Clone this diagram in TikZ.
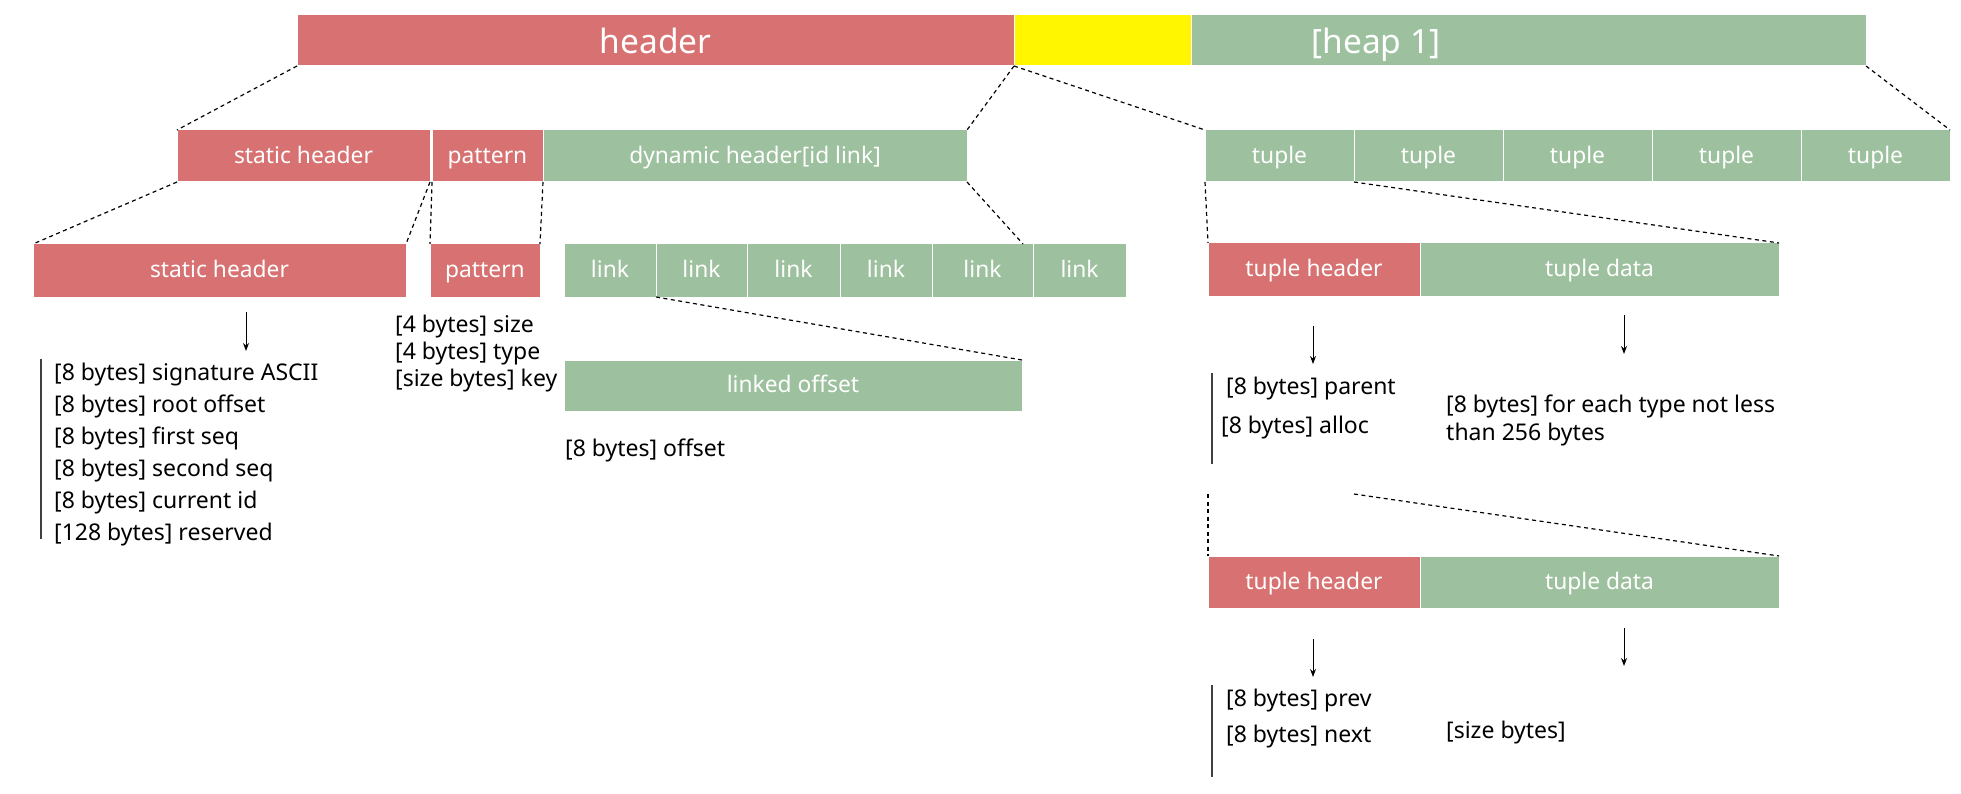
\documentclass[tikz,border=0pt]{standalone}
\usepackage{fontspec}
\setmainfont{Noto Sans}
\usetikzlibrary{calc,arrows.meta}
\definecolor{boxred}{RGB}{216,113,113}
\definecolor{boxgreen}{RGB}{157,192,158}
\definecolor{boxyellow}{RGB}{255,246,0}
\tikzset{
  cell/.style={anchor=north west, inner sep=0pt, outer sep=0pt, draw=white, line width=1pt,
    text=white, font=\fontsize{22.8}{26}\selectfont, text height=14.6pt, text depth=0pt},
  redcell/.style={cell, fill=boxred},
  greencell/.style={cell, fill=boxgreen},
  bigcell/.style={font=\fontsize{33.5}{38}\selectfont, text height=25.5pt, text depth=0pt},
  zoomline/.style={draw=black, line width=1.2pt, dash pattern=on 4pt off 3.5pt},
  downarrow/.style={draw=black, line width=1pt, -{Stealth[length=8pt,width=6pt]}},
  bar/.style={draw=black!75, line width=1.3pt},
  note/.style={anchor=west, inner sep=0pt, yshift=-2.5pt, font=\fontsize{23}{26}\selectfont, text=black},
}
\begin{document}
\begin{tikzpicture}[x=1pt,y=-1pt]
\useasboundingbox (0,0) rectangle (1961,794);
% row 1
\node[redcell, bigcell, minimum width=717pt, minimum height=51pt] (header) at (297,15) {header};
\node[cell, fill=boxyellow, minimum width=177pt, minimum height=51pt] (yel) at (1014,15) {};
\node[greencell, minimum width=675pt, minimum height=51pt] (heap) at (1191,15) {};
\node[text=white, inner sep=0pt, bigcell] (heaplbl) at (1376,40.5) {[heap 1]};
% row 2
\node[redcell, minimum width=253pt, minimum height=52pt] (sh2) at (177,130) {static header};
\node[redcell, minimum width=111pt, minimum height=52pt] (pat2) at (432,130) {pattern};
\node[greencell, minimum width=424pt, minimum height=52pt] (dyn) at (543,130) {dynamic header[id link]};
\node[greencell, minimum width=149pt, minimum height=52pt] (t1) at (1205,130) {tuple};
\node[greencell, minimum width=149pt, minimum height=52pt] (t2) at (1354,130) {tuple};
\node[greencell, minimum width=149pt, minimum height=52pt] (t3) at (1503,130) {tuple};
\node[greencell, minimum width=149pt, minimum height=52pt] (t4) at (1652,130) {tuple};
\node[greencell, minimum width=149pt, minimum height=52pt] (t5) at (1801,130) {tuple};
% row 3
\node[redcell, minimum width=373pt, minimum height=53pt] (sh3) at (33,244) {static header};
\node[redcell, minimum width=110pt, minimum height=53pt] (pat3) at (430,244) {pattern};
\node[greencell, minimum width=92pt, minimum height=53pt] (lk1) at (564,244) {link};
\node[greencell, minimum width=91pt, minimum height=53pt] (lk2) at (656,244) {link};
\node[greencell, minimum width=93pt, minimum height=53pt] (lk3) at (747,244) {link};
\node[greencell, minimum width=92pt, minimum height=53pt] (lk4) at (840,244) {link};
\node[greencell, minimum width=101pt, minimum height=53pt] (lk5) at (932,244) {link};
\node[greencell, minimum width=93pt, minimum height=53pt] (lk6) at (1033,244) {link};
\node[redcell, minimum width=212pt, minimum height=53pt] (th1) at (1208,243) {tuple header};
\node[greencell, minimum width=359pt, minimum height=53pt] (td1) at (1420,243) {tuple data};
% linked offset
\node[greencell, minimum width=458pt, minimum height=51pt] (lo) at (564,360) {linked offset};
% tuple 2
\node[redcell, minimum width=212pt, minimum height=52pt] (th2) at (1208,556) {tuple header};
\node[greencell, minimum width=359pt, minimum height=52pt] (td2) at (1420,556) {tuple data};

% zoom lines
\draw[zoomline] (header.south west) -- (sh2.north west);
\draw[zoomline] (header.south east) -- (dyn.north east);
\draw[zoomline] (yel.south west) -- (t1.north west);
\draw[zoomline] (heap.south east) -- (t5.north east);
\draw[zoomline] (sh2.south west) -- (sh3.north west);
\draw[zoomline] (sh2.south east) -- (sh3.north east);
\draw[zoomline] (pat2.south west) -- (pat3.north west);
\draw[zoomline] (pat2.south east) -- (pat3.north east);
\coordinate (lkend) at ($(lk5.north east)+(-10,0)$);
\draw[zoomline] (dyn.south east) -- (lkend);
\draw[zoomline] (t1.south west) -- (th1.north west);
\draw[zoomline] (t1.south east) -- (td1.north east);
\draw[zoomline] (lk1.south east) -- (lo.north east);
\coordinate (c1) at (1208,494);
\coordinate (c2) at (1354,494);
\draw[zoomline] (c1) -- (th2.north west);
\draw[zoomline] (c2) -- (td2.north east);

% arrows
\coordinate (a1s) at (246,312); \coordinate (a1e) at (246,351);
\coordinate (a2s) at (1313,326); \coordinate (a2e) at (1313,364);
\coordinate (a3s) at (1624,315); \coordinate (a3e) at (1624,354);
\coordinate (a4s) at (1313,639); \coordinate (a4e) at (1313,677);
\coordinate (a5s) at (1624,628); \coordinate (a5e) at (1624,666);
\draw[downarrow] (a1s) -- (a1e);
\draw[downarrow] (a2s) -- (a2e);
\draw[downarrow] (a3s) -- (a3e);
\draw[downarrow] (a4s) -- (a4e);
\draw[downarrow] (a5s) -- (a5e);

% bars
\coordinate (b1s) at (41,359); \coordinate (b1e) at (41,539);
\coordinate (b2s) at (1212,373); \coordinate (b2e) at (1212,464);
\coordinate (b3s) at (1212,685); \coordinate (b3e) at (1212,777);
\draw[bar] (b1s) -- (b1e);
\draw[bar] (b2s) -- (b2e);
\draw[bar] (b3s) -- (b3e);

% notes
\node[note] (s1) at (54,372) {[8 bytes] signature ASCII};
\node[note] (s2) at (54,404) {[8 bytes] root offset};
\node[note] (s3) at (54,436) {[8 bytes] first seq};
\node[note] (s4) at (54,468) {[8 bytes] second seq};
\node[note] (s5) at (54,500) {[8 bytes] current id};
\node[note] (s6) at (54,532) {[128 bytes] reserved};
\node[note] (p1) at (395,324) {[4 bytes] size};
\node[note] (p2) at (395,351) {[4 bytes] type};
\node[note] (p3) at (395,378) {[size bytes] key};
\node[note] (o1) at (565,448) {[8 bytes] offset};
\node[note] (h1) at (1226,386) {[8 bytes] parent};
\node[note] (h2) at (1221,425) {[8 bytes] alloc};
\node[note, align=left, font=\fontsize{23}{28}\selectfont] (d1) at (1446,418) {[8 bytes] for each type not less\\than 256 bytes};
\node[note] (h3) at (1226,698) {[8 bytes] prev};
\node[note] (h4) at (1226,734) {[8 bytes] next};
\node[note] (d2) at (1446,730) {[size bytes]};
\end{tikzpicture}
\end{document}
